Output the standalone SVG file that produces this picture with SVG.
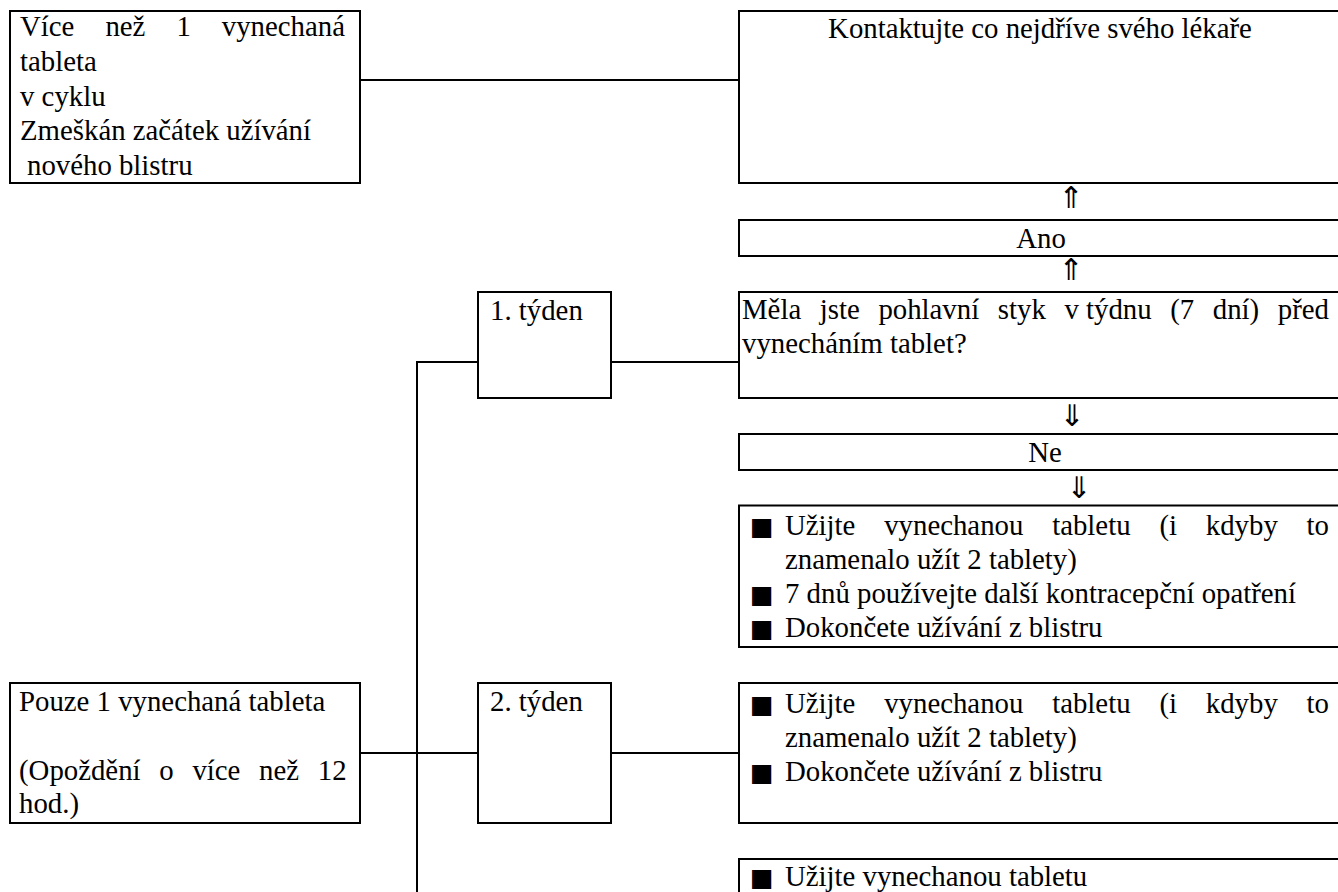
<svg xmlns="http://www.w3.org/2000/svg" width="1338" height="892" viewBox="0 0 1338 892">
<style>
.box{fill:#fff;stroke:#000;stroke-width:2}
.ln{stroke:#000;stroke-width:2;fill:none}
.t{font-family:"Liberation Serif","Times New Roman",serif;font-size:28.8px;fill:#000}
.c{text-anchor:middle}
.ar{font-family:"DejaVu Sans",sans-serif;font-size:30px;fill:#000;text-anchor:middle}
.bu{font-family:"DejaVu Sans",sans-serif;font-size:25px;fill:#000}
</style>
<rect width="1338" height="892" fill="#fff"/>
<g id="connectors">
<line class="ln" x1="360" y1="80" x2="739" y2="80"/>
<polyline class="ln" points="417,892 417,362 478,362"/>
<line class="ln" x1="611" y1="362" x2="739" y2="362"/>
<line class="ln" x1="360" y1="753" x2="478" y2="753"/>
<line class="ln" x1="611" y1="753" x2="739" y2="753"/>
</g>
<g id="n-vice">
<rect class="box" x="10" y="11" width="350" height="172"/>
<text class="t" y="36"><tspan x="20">Více</tspan><tspan x="105.4">než</tspan><tspan x="176.4">1</tspan><tspan x="221.8">vynechaná</tspan></text>
<text class="t" x="20" y="70.8">tableta</text>
<text class="t" x="20" y="105.6">v cyklu</text>
<text class="t" x="20" y="140.4">Zmeškán začátek užívání</text>
<text class="t" x="27" y="175.2">nového blistru</text>
</g>
<g id="n-kontakt">
<rect class="box" x="739" y="11" width="602" height="172"/>
<text class="t c" x="1040" y="38">Kontaktujte co nejdříve svého lékaře</text>
</g>
<g id="arrows">
<text class="ar" x="1071" y="208">⇑</text>
<text class="ar" x="1071" y="280">⇑</text>
<text class="ar" x="1072" y="426">⇓</text>
<text class="ar" x="1079" y="498">⇓</text>
</g>
<g id="n-ano">
<rect class="box" x="739" y="220" width="602" height="36"/>
<text class="t c" x="1041" y="248">Ano</text>
</g>
<g id="n-mela">
<rect class="box" x="739" y="292" width="602" height="106"/>
<text class="t" y="319"><tspan x="742">Měla</tspan><tspan x="819.8">jste</tspan><tspan x="878.4">pohlavní</tspan><tspan x="997.8">styk</tspan><tspan x="1064.4">v týdnu</tspan><tspan x="1170.2">(7</tspan><tspan x="1212.8">dní)</tspan><tspan x="1277.8">před</tspan></text>
<text class="t" x="742" y="352.5">vynecháním tablet?</text>
</g>
<g id="n-ne">
<rect class="box" x="739" y="434" width="602" height="36"/>
<text class="t c" x="1045" y="462">Ne</text>
</g>
<g id="n-week1-actions">
<rect class="box" x="739" y="505.5" width="602" height="141.5"/>
<text class="bu" x="750" y="535">■</text>
<text class="t" y="535"><tspan x="785">Užijte</tspan><tspan x="884.2">vynechanou</tspan><tspan x="1052.2">tabletu</tspan><tspan x="1159.4">(i</tspan><tspan x="1205.8">kdyby</tspan><tspan x="1306.6">to</tspan></text>
<text class="t" x="785" y="569">znamenalo užít 2 tablety)</text>
<text class="bu" x="750" y="603">■</text>
<text class="t" x="785" y="603">7 dnů používejte další kontracepční opatření</text>
<text class="bu" x="750" y="637">■</text>
<text class="t" x="785" y="637">Dokončete užívání z blistru</text>
</g>
<g id="n-week1">
<rect class="box" x="478" y="292" width="133" height="106"/>
<text class="t" x="490" y="320">1. týden</text>
</g>
<g id="n-pouze">
<rect class="box" x="10" y="683" width="350" height="140"/>
<text class="t" x="19" y="711">Pouze 1 vynechaná tableta</text>
<text class="t" y="780"><tspan x="19">(Opoždění</tspan><tspan x="159.3">o</tspan><tspan x="192.4">více</tspan><tspan x="259.1">než</tspan><tspan x="317.8">12</tspan></text>
<text class="t" x="19" y="813">hod.)</text>
</g>
<g id="n-week2">
<rect class="box" x="478" y="683" width="133" height="140"/>
<text class="t" x="490" y="711">2. týden</text>
</g>
<g id="n-week2-actions">
<rect class="box" x="739" y="683" width="602" height="140"/>
<text class="bu" x="750" y="713">■</text>
<text class="t" y="713"><tspan x="785">Užijte</tspan><tspan x="884.2">vynechanou</tspan><tspan x="1052.2">tabletu</tspan><tspan x="1159.4">(i</tspan><tspan x="1205.8">kdyby</tspan><tspan x="1306.6">to</tspan></text>
<text class="t" x="785" y="747">znamenalo užít 2 tablety)</text>
<text class="bu" x="750" y="781">■</text>
<text class="t" x="785" y="781">Dokončete užívání z blistru</text>
</g>
<g id="n-week3-actions">
<rect class="box" x="739" y="859" width="602" height="40"/>
<text class="bu" x="750" y="886">■</text>
<text class="t" x="785" y="886">Užijte vynechanou tabletu</text>
</g>
</svg>
